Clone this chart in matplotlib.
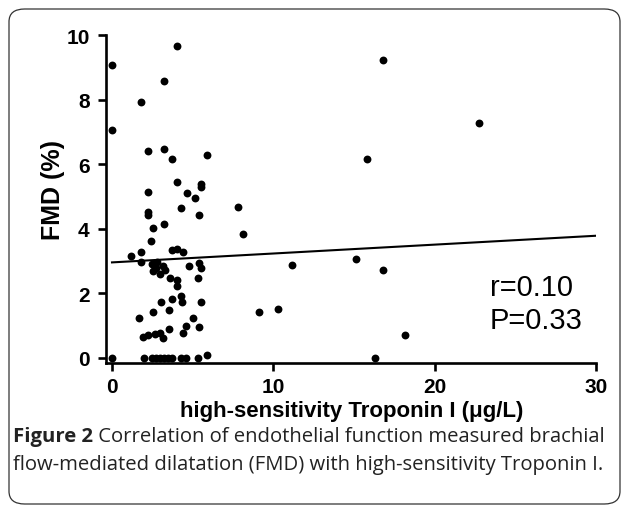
import matplotlib
matplotlib.use("Agg")
import matplotlib.pyplot as plt
from matplotlib.patches import FancyBboxPatch
import numpy as np

# hs-TnI (ug/L) vs FMD (%)
troponin = [
    0.0, 0.0, 0.0, 4.0, 3.2, 1.82, 2.23, 3.22, 3.72, 5.91,
    4.0, 5.54, 5.54, 2.23, 4.63, 5.13, 2.25, 2.25, 4.30, 5.41,
    2.52, 3.22, 2.44, 1.20, 1.82, 3.72, 4.00, 4.42, 1.78, 2.46,
    2.77, 3.18, 2.56, 2.98, 3.29, 2.70, 4.80, 5.41, 5.54, 3.60,
    4.00, 4.04, 5.35, 3.70, 4.30, 4.34, 3.02, 5.54, 2.52, 3.55,
    1.69, 5.04, 4.59, 4.42, 5.41, 3.55, 1.94, 2.25, 2.67, 2.98,
    3.18, 1.98, 2.46, 2.70, 2.95, 3.20, 3.45, 3.70, 4.30, 4.59,
    5.30, 5.91, 7.83, 8.10, 11.14, 9.13, 10.31, 16.82, 22.73, 15.83,
    15.13, 16.82, 18.16, 16.30,
]
fmd = [
    9.07, 7.07, 0.0, 9.66, 8.57, 7.92, 6.42, 6.47, 6.16, 6.28,
    5.44, 5.39, 5.28, 5.13, 5.10, 4.95, 4.51, 4.43, 4.63, 4.43,
    4.01, 4.15, 3.62, 3.17, 3.29, 3.33, 3.37, 3.29, 2.96, 2.91,
    2.96, 2.86, 2.70, 2.60, 2.72, 2.80, 2.86, 2.94, 2.80, 2.47,
    2.40, 2.23, 2.47, 1.83, 1.91, 1.74, 1.72, 1.72, 1.41, 1.49,
    1.25, 1.25, 0.98, 0.77, 0.96, 0.90, 0.65, 0.71, 0.73, 0.77,
    0.63, 0.0, 0.0, 0.0, 0.0, 0.0, 0.0, 0.0, 0.0, 0.0,
    0.0, 0.09, 4.67, 3.84, 2.88, 1.43, 1.53, 9.23, 7.27, 6.16,
    3.07, 2.72, 0.72, 0.0,
]

# regression line (from the figure)
fit_intercept = 2.96
fit_slope = 0.0275
fit_x = [0, 30]

stats_text = "r=0.10\nP=0.33"
x_ticks = [0, 10, 20, 30]
y_ticks = [0, 2, 4, 6, 8, 10]

plt.rcParams["font.family"] = ["Liberation Sans", "DejaVu Sans"]

W, H = 629, 510
fig = plt.figure(figsize=(W / 100, H / 100), dpi=100)

# axes placed in pixels: x=0 at 112px, x=30 at 596px; y=10 at 36px, y=0 at 359px
xpu = (596 - 112) / 30
ypu = (359 - 36) / 10
x0, y0 = -0.35, -0.15
left = 112 + x0 * xpu
bottom = H - (359 - y0 * ypu)
ax = fig.add_axes([left / W, bottom / H, (596 - left) / W, (H - 36 - bottom) / H])
ax.set_xlim(x0, 30)
ax.set_ylim(y0, 10)

ax.scatter(troponin, fmd, s=32, color="black", zorder=3, clip_on=False, linewidths=0)
fx = np.array(fit_x)
ax.plot(fx, fit_intercept + fit_slope * fx, color="black", lw=1.5, zorder=2)

ax.text(23.4, 1.69, stats_text, fontsize=21, va="center", ha="left", linespacing=1.25)

for s in ["top", "right"]:
    ax.spines[s].set_visible(False)
for s in ["left", "bottom"]:
    ax.spines[s].set_linewidth(1.9)
ax.set_xticks(x_ticks)
ax.set_yticks(y_ticks)
ax.tick_params(width=1.9, length=6, labelsize=15, direction="out")
ax.tick_params(axis="x", pad=4)
ax.tick_params(axis="y", pad=6)
for lab in ax.get_xticklabels() + ax.get_yticklabels():
    lab.set_fontweight("bold")

# axis titles placed in figure pixels
fig.text(352 / W, 1 - 412 / H, "high-sensitivity Troponin I (\u03bcg/L)",
         fontsize=16, fontweight="bold", ha="center", va="center")
fig.text(53 / W, 1 - 190 / H, "FMD (%)", fontsize=18, fontweight="bold",
         rotation=90, ha="center", va="center")

# rounded frame around the figure
frame = FancyBboxPatch((9 / W, 5 / H), (620 - 9) / W, (H - 10 - 5) / H,
                       boxstyle="round,pad=0,rounding_size=0.025",
                       transform=fig.transFigure, fill=False,
                       edgecolor="#333333", lw=0.9)
fig.patches.append(frame)

cap_font = ["Open Sans", "DejaVu Sans"]
cap_size = 14.6
t1 = fig.text(13 / W, 1 - 437 / H, "Figure 2", fontsize=cap_size, fontweight="bold",
              family=cap_font, va="center", color="#222222")
ax.annotate(" Correlation of endothelial function measured brachial",
            xy=(1, 0.5), xycoords=t1, va="center", ha="left",
            fontsize=cap_size, family=cap_font, color="#222222", annotation_clip=False)
fig.text(13 / W, 1 - 465 / H,
         "flow-mediated dilatation (FMD) with high-sensitivity Troponin I.",
         fontsize=cap_size, family=cap_font, va="center", color="#222222")

fig.savefig("out.png", dpi=100)
